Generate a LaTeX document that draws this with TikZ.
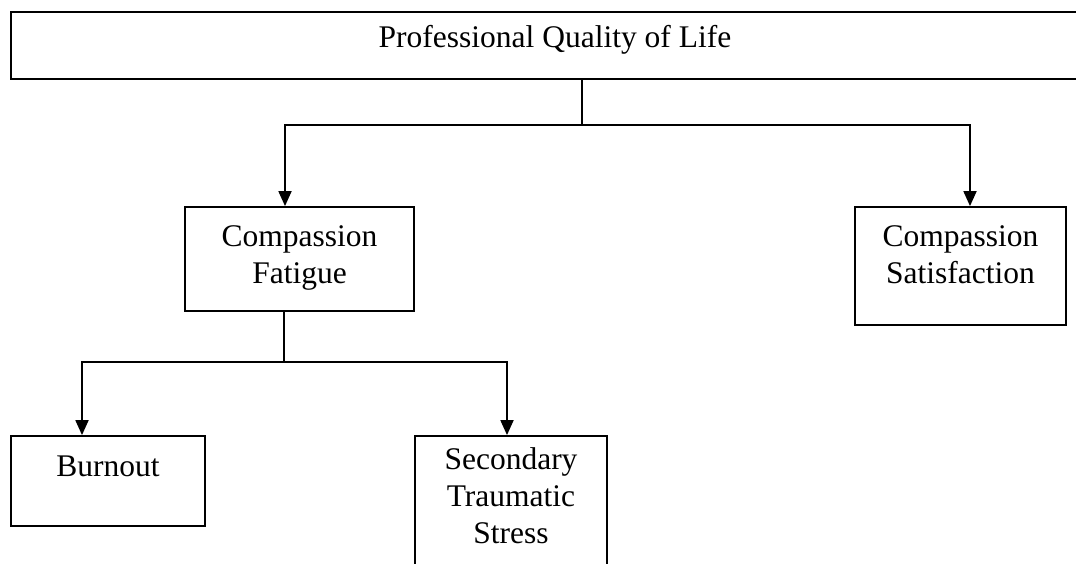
\documentclass[tikz,border=0pt]{standalone}
\usepackage{fontspec}
\setmainfont{Liberation Serif}
\usetikzlibrary{arrows.meta}
\begin{document}
\begin{tikzpicture}[x=1pt,y=-1pt,
  box/.style={draw, line width=1.8pt, rectangle, inner sep=0pt},
  txt/.style={font=\fontsize{31.5}{37}\selectfont, align=center, inner sep=0pt, anchor=north},
  conn/.style={line width=1.8pt},
  arr/.style={line width=1.8pt, {Triangle[width=13pt,length=15pt]}-{Triangle[width=13pt,length=15pt]}}]
\useasboundingbox (0,0) rectangle (1076,564);
\clip (0,0) rectangle (1076,564);
% boxes
\node[box, minimum width=1142pt, minimum height=67pt] (top) at (582,45.5) {};
\node[box, minimum width=229pt, minimum height=104pt] (cf) at (299.5,259) {};
\node[box, minimum width=211pt, minimum height=118pt] (cs) at (960.5,266) {};
\node[box, minimum width=194pt, minimum height=90pt] (bo) at (108,481) {};
\node[box, minimum width=192pt, minimum height=144pt] (sts) at (511,508) {};
% texts
\node[txt] (toptext) at (555,25.5) {Professional Quality of Life};
\node[txt] (cftext) at (299.5,225.5) {Compassion\\Fatigue};
\node[txt] (cstext) at (960.5,225.5) {Compassion\\Satisfaction};
\node[txt] (botext) at (108,456) {Burnout};
\node[txt] (ststext) at (511,447.5) {Secondary\\Traumatic\\Stress};
% connectors
\coordinate (jl) at (285,125);
\coordinate (jr) at (970,125);
\draw[conn] (top.south) -- (top.south |- jl);
\draw[arr] (jl |- cf.north) -- (jl) -- (jr) -- (jr |- cs.north);
\coordinate (jm) at (284,362);
\coordinate (bl) at (82,362);
\coordinate (br) at (507,362);
\draw[conn] (jm |- cf.south) -- (jm);
\draw[arr] (bl |- bo.north) -- (bl) -- (br) -- (br |- sts.north);
\end{tikzpicture}
\end{document}
